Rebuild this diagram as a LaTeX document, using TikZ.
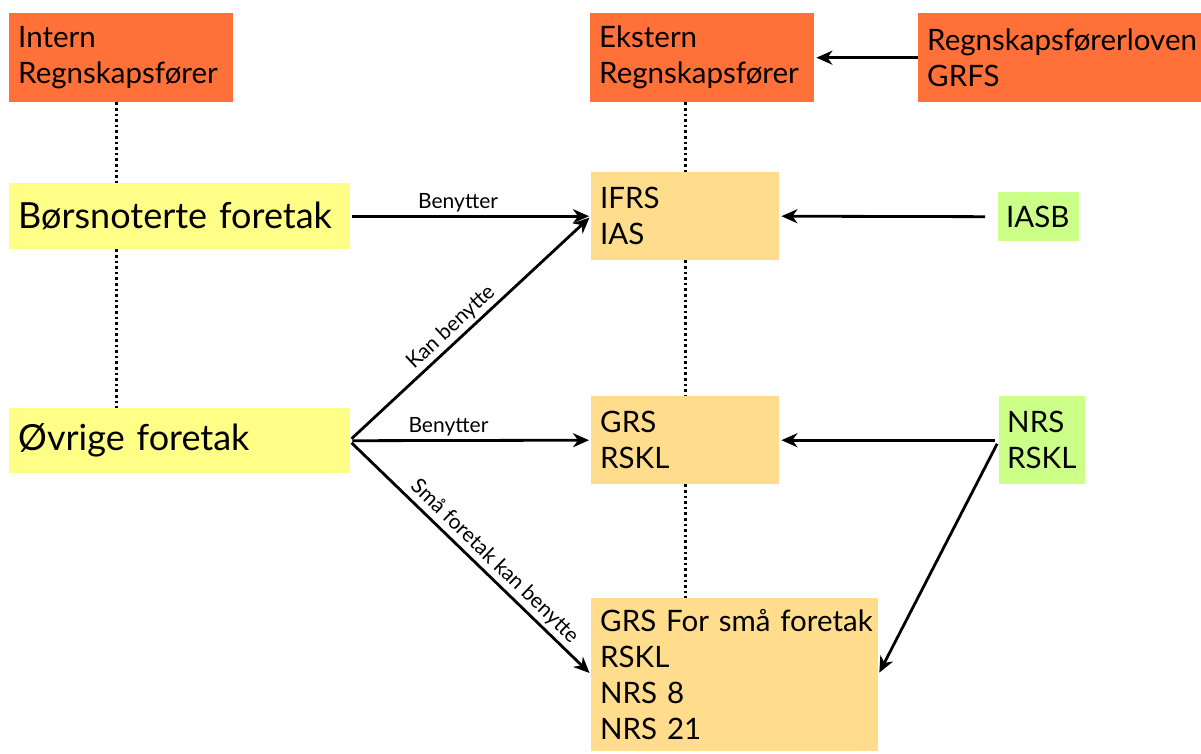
\documentclass[tikz,border=0pt]{standalone}
\usepackage{fontspec}
\setmainfont{Lato}
\usetikzlibrary{arrows.meta,calc}
\definecolor{cOrange}{HTML}{FF7139}
\definecolor{cYellow}{HTML}{FFFF88}
\definecolor{cTan}{HTML}{FFDD8C}
\definecolor{cGreen}{HTML}{CCFF88}
\begin{document}
\begin{tikzpicture}[x=1pt,y=-1pt,
  box/.style={rectangle, inner xsep=9pt, inner ysep=0pt, align=left, anchor=north west, font=\fontsize{29.5}{36}\selectfont},
  bigbox/.style={box, font=\fontsize{36}{40}\selectfont},
  arr/.style={line width=2.8pt, -{Stealth[length=16pt,width=14pt,inset=5pt]}, shorten <=3pt, shorten >=2pt},
  lbl/.style={font=\fontsize{21}{24}\selectfont, inner sep=1pt},
  dots/.style={line width=2.6pt, dash pattern=on 2.6pt off 3pt}]
\useasboundingbox (0,0) rectangle (1201,753);
\clip (0,0) rectangle (1201,753);
\fill[white] (0,0) rectangle (1201,753);

\node[box, fill=cOrange, text width=206pt, minimum height=89pt] (intern) at (9,13) {Intern\\Regnskapsfører};
\node[box, fill=cOrange, text width=206pt, minimum height=89pt] (ekstern) at (590,13) {Ekstern\\Regnskapsfører};
\node[box, fill=cOrange, text width=300pt, minimum height=89pt] (law) at (918,13) {Regnskapsførerloven\\GRFS};
\node[bigbox, fill=cYellow, text width=322pt, minimum height=66pt] (bors) at (9,183) {Børsnoterte foretak};
\node[bigbox, fill=cYellow, text width=322pt, minimum height=65pt] (ovr) at (9,408) {Øvrige foretak};
\node[box, fill=cTan, text width=170pt, minimum height=88pt] (ifrs) at (591,172) {IFRS\\IAS};
\node[box, fill=cGreen, inner xsep=8pt, text width=65pt, minimum height=49pt] (iasb) at (998,192) {IASB};
\node[box, fill=cTan, text width=170pt, minimum height=88pt] (grs) at (591,396) {GRS\\RSKL};
\node[box, fill=cGreen, inner xsep=8pt, text width=70pt, minimum height=88pt] (nrs) at (999,396) {NRS\\RSKL};
\node[box, fill=cTan, inner ysep=11pt, text width=269pt] (gsmall) at (591,598) {\mbox{GRS For små foretak}\\RSKL\\NRS 8\\NRS 21};

\coordinate (dx) at ([xshift=-5pt]intern.south);
\draw[dots] (dx) -- (dx |- bors.north);
\draw[dots] (dx |- bors.south) -- (dx |- ovr.north);
\draw[dots] (ifrs.north |- ekstern.south) -- (ifrs.north);
\draw[dots] (ifrs.south) -- (grs.north);
\draw[dots] (grs.south) -- (grs.south |- gsmall.north);

\draw[arr] (bors.east) -- node[lbl, above=2pt, pos=0.45] {Benytter} (ifrs.west);
\draw[arr] (ovr.east) -- node[lbl, above=2pt, sloped, pos=0.46] {Kan benytte} (ifrs.west);
\draw[arr] (ovr.east) -- node[lbl, above=2pt, pos=0.41] {Benytter} (grs.west);
\draw[arr] (ovr.east) -- node[lbl, above=2pt, sloped, pos=0.56] {Små foretak kan benytte} (gsmall.west);
\draw[arr, shorten <=0pt] (law.west) -- (ekstern.east);
\draw[arr, shorten <=13pt] (iasb.west) -- (ifrs.east);
\draw[arr, shorten <=4pt] (nrs.west) -- (grs.east);
\draw[arr, shorten <=4pt] (nrs.west) -- (gsmall.east);
\end{tikzpicture}
\end{document}
